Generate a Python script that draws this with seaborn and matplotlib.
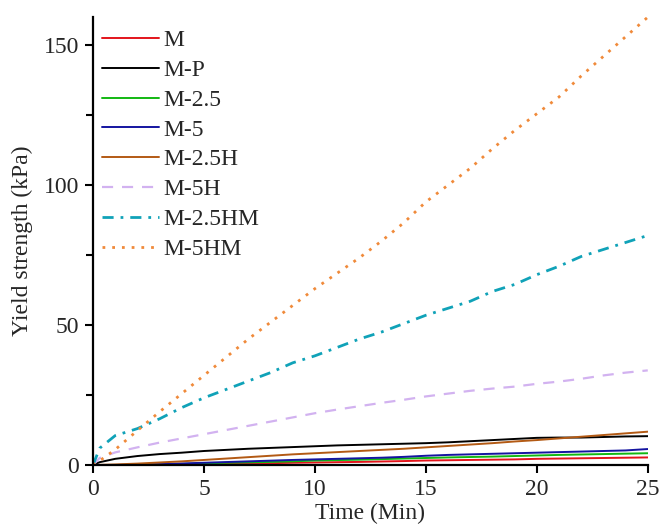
import matplotlib
matplotlib.use("Agg")
import matplotlib.pyplot as plt
import seaborn as sns
import pandas as pd
from matplotlib.ticker import MultipleLocator

time_min = [0, 0.3] + list(range(1, 26))

m = [0, 0, 0, 0.05, 0.1, 0.2, 0.3, 0.4, 0.5, 0.65, 0.8, 0.9, 1.0, 1.1, 1.25, 1.4,
     1.6, 1.7, 1.8, 1.9, 2.0, 2.2, 2.3, 2.4, 2.5, 2.6, 2.7]
m_p = [0, 1.0, 2.2, 3.2, 3.9, 4.4, 5.0, 5.4, 5.8, 6.1, 6.4, 6.7, 7.0, 7.2, 7.4, 7.6,
       7.8, 8.1, 8.5, 8.9, 9.3, 9.7, 9.8, 9.8, 10.0, 10.2, 10.3]
m_25 = [0, 0, 0, 0.05, 0.15, 0.35, 0.6, 0.8, 0.95, 1.1, 1.3, 1.6, 1.75, 1.9, 2.1, 2.3,
        2.5, 2.7, 2.85, 3.0, 3.2, 3.4, 3.6, 3.75, 3.9, 4.05, 4.2]
m_5 = [0, 0, 0, 0.1, 0.3, 0.55, 0.8, 1.05, 1.3, 1.55, 1.8, 2.0, 2.2, 2.4, 2.6, 2.9,
       3.3, 3.6, 3.8, 4.0, 4.2, 4.4, 4.6, 4.8, 5.0, 5.2, 5.7]
m_25h = [0, 0.05, 0.2, 0.5, 0.9, 1.3, 1.8, 2.3, 2.8, 3.3, 3.8, 4.2, 4.6, 5.0, 5.4, 5.8,
         6.3, 6.8, 7.3, 7.8, 8.4, 8.9, 9.5, 10.1, 10.7, 11.3, 11.9]
m_5h = [0, 2.5, 4.5, 6.3, 8.0, 9.5, 11.0, 12.5, 14.0, 15.5, 17.0, 18.5, 19.8, 21.0,
        22.2, 23.3, 24.5, 25.5, 26.5, 27.3, 28.0, 29.0, 29.8, 30.8, 32.0, 33.0, 33.8]
m_25hm = [0, 6.0, 10.5, 13.0, 16.5, 20.5, 24.0, 27.0, 30.0, 33.0, 36.5, 39.0, 42.0,
          45.0, 47.5, 50.5, 53.5, 56.0, 58.5, 62.0, 64.5, 68.0, 71.0, 74.5, 77.0, 79.5, 82.0]
m_5hm = [0, 1.5, 5.5, 12.3, 19.0, 25.5, 32.0, 38.5, 45.0, 51.0, 57.0, 63.0, 68.5, 74.0,
         80.0, 86.5, 94.0, 100.0, 106.0, 113.0, 119.5, 125.5, 131.5, 139.0, 146.0, 153.0, 160.0]

labels = ["M", "M-P", "M-2.5", "M-5", "M-2.5H", "M-5H", "M-2.5HM", "M-5HM"]
series = [m, m_p, m_25, m_5, m_25h, m_5h, m_25hm, m_5hm]
colors = ["#e3141b", "#000000", "#12b812", "#1414a0", "#b35a14", "#d2b2f0", "#10a2b8", "#f08a3a"]
styles = ["-", "-", "-", "-", "-", (0, (5, 4)), (0, (4, 2.5, 1, 2.5)), (0, (1, 2.5))]
widths = [1.4, 1.4, 1.4, 1.4, 1.4, 1.6, 2.0, 2.0]

sns.set_style("ticks")
plt.rcParams["font.family"] = ["Liberation Serif", "DejaVu Serif"]

fig = plt.figure(figsize=(6.62, 5.25), dpi=100)
ax = fig.add_axes([0.1405, 0.1143, 0.838, 0.853])

for lab, vals, col, ls, lw in zip(labels, series, colors, styles, widths):
    df = pd.DataFrame({"Time": time_min, "Yield": vals})
    sns.lineplot(data=df, x="Time", y="Yield", ax=ax, color=col, linestyle=ls,
                 linewidth=lw, label=lab)

ax.set_xlim(0, 25)
ax.set_ylim(0, 160)
ax.set_xticks([0, 5, 10, 15, 20, 25])
ax.set_yticks([0, 50, 100, 150])
ax.yaxis.set_minor_locator(MultipleLocator(25))
sns.despine(ax=ax)
for s in ["left", "bottom"]:
    ax.spines[s].set_linewidth(1.6)
    ax.spines[s].set_color("black")
ax.tick_params(axis="both", which="major", direction="out", length=6, width=1.5,
               labelsize=17, color="black", pad=4)
ax.tick_params(axis="y", which="minor", direction="out", length=5, width=1.5, color="black")

ax.set_xlabel("Time (Min)", fontsize=17, labelpad=2)
ax.set_ylabel("Yield strength (kPa)", fontsize=17, labelpad=8)

leg = ax.legend(loc="upper left", bbox_to_anchor=(0.0, 0.993), frameon=False, fontsize=17,
                handlelength=2.4, handletextpad=0.2, labelspacing=0.35, borderaxespad=0.0)

fig.savefig("out.png", dpi=100)
